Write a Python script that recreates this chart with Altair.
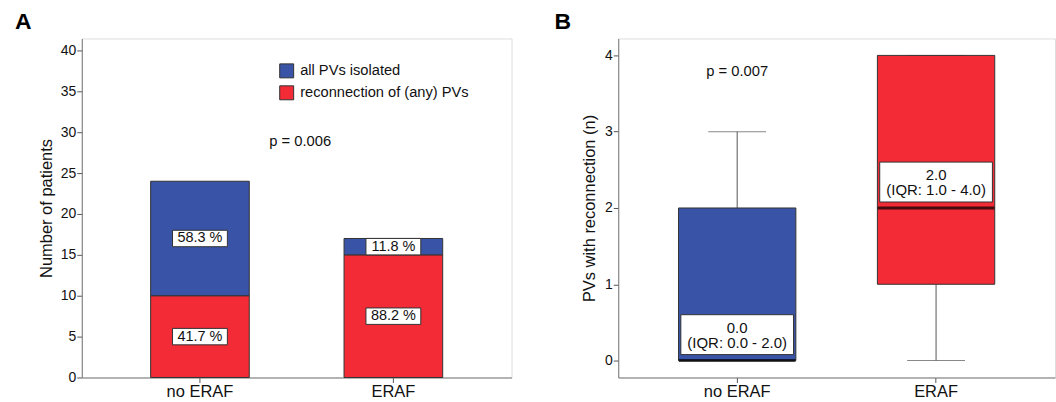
import altair as alt
import pandas as pd

# ---------------- data ----------------
groups = ["no ERAF", "ERAF"]
outcomes = ["all PVs isolated", "reconnection of (any) PVs"]
isolated_counts = [14, 2]
reconnected_counts = [10, 15]
percent_isolated = ["58.3 %", "11.8 %"]
percent_reconnected = ["41.7 %", "88.2 %"]
p_value_a = "p = 0.006"

box_min = [0, 0]
box_q1 = [0, 1]
box_median = [0, 2]
box_q3 = [2, 4]
box_max = [3, 4]
median_labels = ["0.0\n(IQR: 0.0 - 2.0)", "2.0\n(IQR: 1.0 - 4.0)"]
p_value_b = "p = 0.007"
p_value_b_level = 3.78

# ---------------- styles ----------------
BLUE = "#3953a6"
RED = "#f22b36"
EDGE = "#333333"
FONT = "Liberation Sans"

# ---------------- tables ----------------
rows = []
for g, iso, rec, piso, prec in zip(groups, isolated_counts, reconnected_counts,
                                    percent_isolated, percent_reconnected):
    rows.append(dict(group=g, outcome=outcomes[1], lo=0, hi=rec, mid=rec / 2, label=prec))
    rows.append(dict(group=g, outcome=outcomes[0], lo=rec, hi=rec + iso,
                     mid=rec + iso / 2, label=piso))
bars = pd.DataFrame(rows)

box = pd.DataFrame(dict(group=groups, mn=box_min, q1=box_q1, med=box_median,
                        q3=box_q3, mx=box_max, label=median_labels))
pB_df = pd.DataFrame({"group": [groups[0]], "v": [p_value_b_level], "t": [p_value_b]})

axis_common = dict(labelFont=FONT, titleFont=FONT, labelColor="#111", titleColor="#111",
                   tickColor="#555", domainColor="#777", tickSize=5, titleFontWeight="normal")

# ---------------- panel A ----------------
xA = alt.X("group:N", sort=groups,
           scale=alt.Scale(paddingInner=0.49, paddingOuter=0.356),
           axis=alt.Axis(title=None, labelAngle=0, labelFontSize=16.5, labelPadding=1, **axis_common))
yA_scale = alt.Scale(domain=[0, 41.46], nice=False, zero=False)

barsA = alt.Chart(bars).mark_bar(stroke=EDGE, strokeWidth=1).encode(
    x=xA,
    y=alt.Y("lo:Q", scale=yA_scale,
            axis=alt.Axis(values=list(range(0, 41, 5)), title="Number of patients",
                          titleFontSize=16.5, labelFontSize=14, labelPadding=1,
                          titlePadding=6, grid=False, **axis_common)),
    y2="hi:Q",
    color=alt.Color("outcome:N", scale=alt.Scale(domain=outcomes, range=[BLUE, RED]),
                    legend=alt.Legend(orient="none", legendX=198, legendY=25, title=None,
                                      symbolType="square", symbolSize=196,
                                      symbolStrokeColor=EDGE, symbolStrokeWidth=1,
                                      labelFont=FONT, labelFontSize=14.7, labelColor="#111",
                                      labelOffset=6, rowPadding=3, labelLimit=400)),
)

BOX_A = "M-1,-0.3L1,-0.3L1,0.3L-1,0.3Z"
labelBoxA = alt.Chart(bars).mark_point(shape=BOX_A, size=3025, filled=True, fill="white",
                                       stroke=EDGE, strokeWidth=1, opacity=1).encode(
    x=alt.X("group:N", sort=groups), y=alt.Y("mid:Q"))
labelTextA = alt.Chart(bars).mark_text(font=FONT, fontSize=14.5, color="#111").encode(
    x=alt.X("group:N", sort=groups), y=alt.Y("mid:Q"), text="label:N")

pA = alt.Chart(pd.DataFrame({"t": [p_value_a]})).mark_text(
    font=FONT, fontSize=14.8, color="#111").encode(
    x=alt.value(219), y=alt.value(104), text="t:N")

panelA = alt.layer(barsA, labelBoxA, labelTextA, pA).properties(
    width=431, height=340,
    title=alt.TitleParams("A", anchor="start", frame="group", fontSize=23, fontWeight="bold",
                          font=FONT, dx=-67, offset=4, color="#000"))

# ---------------- panel B ----------------
xB = alt.X("group:N", sort=groups,
           scale=alt.Scale(paddingInner=0.41, paddingOuter=0.303),
           axis=alt.Axis(title=None, labelAngle=0, labelFontSize=16.5, labelPadding=1, **axis_common))
yB_scale = alt.Scale(domain=[-0.222, 4.222], nice=False, zero=False)
yB_axis = alt.Axis(values=[0, 1, 2, 3, 4], format="d", title="PVs with reconnection (n)",
                   titleFontSize=16.5, labelFontSize=14, labelPadding=1, titlePadding=7,
                   grid=False, **axis_common)

base = alt.Chart(box)
whiskHi = base.mark_rule(color="#555", strokeWidth=1).encode(
    x=xB, y=alt.Y("q3:Q", scale=yB_scale, axis=yB_axis), y2="mx:Q")
whiskLo = base.mark_rule(color="#555", strokeWidth=1).encode(
    x=xB, y=alt.Y("mn:Q"), y2="q1:Q")
capHi = base.mark_tick(color="#555", thickness=1, size=58).encode(x=xB, y="mx:Q")
capLo = base.mark_tick(color="#555", thickness=1, size=58).encode(x=xB, y="mn:Q")
boxes = base.mark_bar(stroke=EDGE, strokeWidth=1).encode(
    x=xB, y="q1:Q", y2="q3:Q",
    color=alt.Color("group:N", scale=alt.Scale(domain=groups, range=[BLUE, RED]), legend=None))
medians = base.mark_tick(color="#000", thickness=3, size=117).encode(x=xB, y="med:Q")

BOX_B = "M-1,-0.354L1,-0.354L1,0.354L-1,0.354Z"
labelBoxB = base.mark_point(shape=BOX_B, size=12769, filled=True, fill="white",
                            stroke=EDGE, strokeWidth=1, opacity=1, yOffset=-26).encode(
    x=xB, y="med:Q")
labelTextB = base.mark_text(font=FONT, fontSize=15, color="#111", lineBreak="\n",
                            lineHeight=15, dy=-33).encode(x=xB, y="med:Q", text="label:N")

pB = alt.Chart(pB_df).mark_text(font=FONT, fontSize=14.8, color="#111").encode(
    x=xB, y="v:Q", text="t:N")

panelB = alt.layer(whiskHi, whiskLo, capHi, capLo, boxes, medians,
                   labelBoxB, labelTextB, pB).properties(
    width=438, height=340,
    title=alt.TitleParams("B", anchor="start", frame="group", fontSize=23, fontWeight="bold",
                          font=FONT, dx=-64, offset=4, color="#000"))

chart = alt.hconcat(panelA, panelB, spacing=41).resolve_scale(
    color="independent", x="independent", y="independent"
).properties(padding={"left": 14, "top": 10, "right": 0, "bottom": 0}).configure_view(
    stroke="#777", strokeWidth=1
).configure(background="white")

chart.save("out.html", embed_options={"renderer": "svg", "actions": False})
